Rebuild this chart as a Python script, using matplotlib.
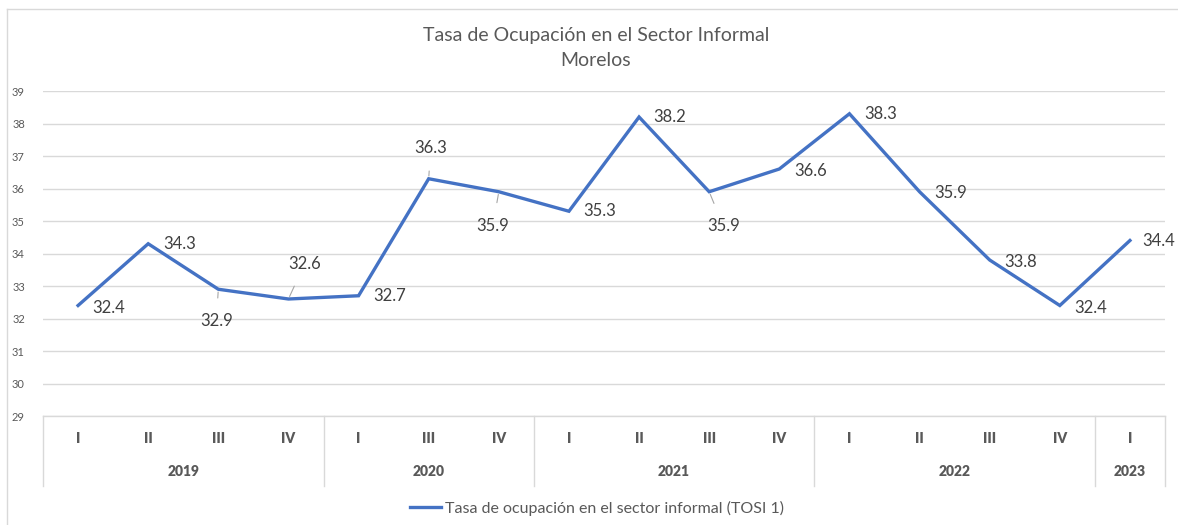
import numpy as np
import matplotlib.pyplot as plt

plt.rcParams['font.family'] = ['Lato', 'DejaVu Sans']

years = ['2019', '2020', '2021', '2022', '2023']
quarters = [['I', 'II', 'III', 'IV'],
            ['I', 'III', 'IV'],
            ['I', 'II', 'III', 'IV'],
            ['I', 'II', 'III', 'IV'],
            ['I']]
tosi = [32.4, 34.3, 32.9, 32.6, 32.7, 36.3, 35.9, 35.3, 38.2, 35.9, 36.6,
        38.3, 35.9, 33.8, 32.4, 34.4]

# label offsets in pixels (dx, dy) and whether a leader line is drawn
label_off = [(31, -2), (31, 0), (-2, -32), (16, 35), (31, 0), (2, 31),
             (-6, -34), (31, 0), (31, 0), (14, -34), (31, -2), (31, 0),
             (31, -1), (31, -2), (31, -2), (29, 0)]
leader = [False, False, True, True, False, True, True, False, False, True,
          False, False, False, False, False, False]

blue = '#4472C4'
grey_txt = '#595959'
grid_c = '#D9D9D9'

fig = plt.figure(figsize=(11.78, 5.25), dpi=100)
ax = fig.add_axes([43 / 1178, 1 - 416 / 525, 1122 / 1178, 325 / 525])

x = np.arange(len(tosi))
ax.plot(x, tosi, color=blue, linewidth=2.4, solid_joinstyle='miter',
        label='Tasa de ocupación en el sector informal (TOSI 1)', zorder=3)

ax.set_xlim(-0.5, len(tosi) - 0.5)
ax.set_ylim(29, 39)
ax.set_yticks(range(29, 40))
ax.yaxis.grid(True, color=grid_c, linewidth=1)
ax.set_axisbelow(True)
ax.tick_params(axis='y', length=0, pad=13, labelsize=8, labelcolor=grey_txt)
ax.tick_params(axis='x', length=0, labelbottom=False)
for s in ax.spines.values():
    s.set_visible(False)

for i, v in enumerate(tosi):
    dx, dy = label_off[i]
    props = None
    if leader[i]:
        props = dict(arrowstyle='-', color='#A6A6A6', lw=0.8,
                     shrinkA=9, shrinkB=2)
    ax.annotate(f'{v:.1f}', (i, v), xytext=(dx, dy),
                textcoords='offset pixels', ha='center', va='center',
                fontsize=12, color='#404040', arrowprops=props, zorder=4)

# multi-level category axis
trans = ax.get_xaxis_transform()
box_c = '#D9D9D9'
ax.plot([-0.5, len(tosi) - 0.5], [0, 0], color=box_c, lw=1,
        transform=trans, clip_on=False)
start = 0
edges = [-0.5]
for yr, qs in zip(years, quarters):
    for j, q in enumerate(qs):
        ax.text(start + j, -0.068, q, transform=trans, ha='center',
                va='center', fontsize=10, fontweight='heavy', color=grey_txt)
    mid = start + (len(qs) - 1) / 2
    ax.text(mid, -0.172, yr, transform=trans, ha='center', va='center',
            fontsize=10, fontweight='heavy', color=grey_txt)
    start += len(qs)
    edges.append(start - 0.5)
for e in edges:
    ax.plot([e, e], [0, -0.215], color=box_c, lw=1, transform=trans,
            clip_on=False)

fig.text(596 / 1178, 1 - 36 / 525, 'Tasa de Ocupación en el Sector Informal',
         ha='center', va='center', fontsize=14, color=grey_txt)
fig.text(596 / 1178, 1 - 61 / 525, 'Morelos', ha='center', va='center',
         fontsize=14, color=grey_txt)

fig.legend(loc='center', bbox_to_anchor=(597 / 1178, 1 - 508 / 525),
           frameon=False, fontsize=11.5, labelcolor=grey_txt,
           handlelength=1.9, handletextpad=0.25)

# chart frame (only top and left edges are inside the picture)
fig.add_artist(plt.Line2D([7 / 1178, 1], [1 - 9 / 525, 1 - 9 / 525],
                          transform=fig.transFigure, color=box_c, lw=1))
fig.add_artist(plt.Line2D([7 / 1178, 7 / 1178], [0, 1 - 9 / 525],
                          transform=fig.transFigure, color=box_c, lw=1))

fig.savefig('out.png', dpi=100)
